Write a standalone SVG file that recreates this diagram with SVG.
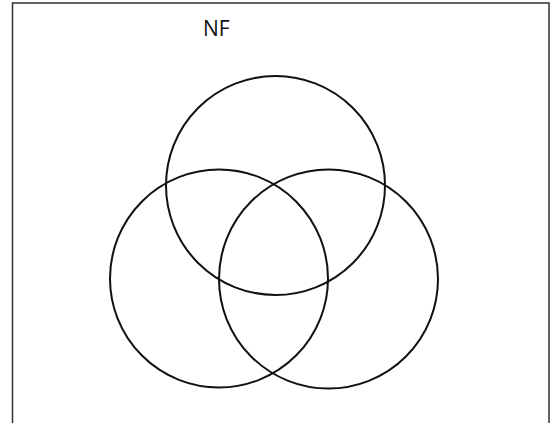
<svg xmlns="http://www.w3.org/2000/svg" width="552" height="423" viewBox="0 0 552 423">
<style>
.c{fill:none;stroke:#111;stroke-width:2}
.t{font-family:"Open Sans","Liberation Sans",sans-serif;font-size:21px;fill:#111}
</style>
<rect x="0" y="0" width="552" height="423" fill="#fff"/>
<path d="M12.5 430 V3 H549 V430" fill="none" stroke="#333" stroke-width="1.5"/>
<text class="t" x="203" y="36">NF</text>
<g id="top"><circle class="c" cx="275.5" cy="185.5" r="109.5"/></g>
<g id="left"><circle class="c" cx="219" cy="278.5" r="109"/></g>
<g id="right"><circle class="c" cx="328.5" cy="279" r="109.5"/></g>
<g id="connectors"></g>
</svg>
